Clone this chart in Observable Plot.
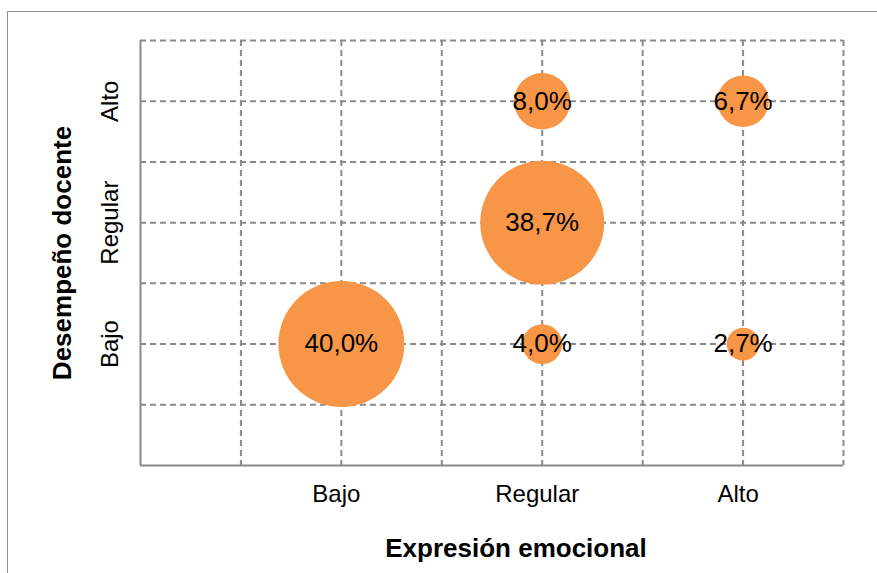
<!DOCTYPE html>
<html>
<head>
<meta charset="utf-8">
<script src="https://cdn.jsdelivr.net/npm/d3@7"></script>
<script src="https://cdn.jsdelivr.net/npm/@observablehq/plot@0.6"></script>
<style>
  html, body { margin: 0; padding: 0; background: #ffffff; }
  #wrap { position: relative; width: 877px; height: 573px; overflow: hidden; }
  #frame { position: absolute; left: 7px; top: 11px; width: 900px; height: 600px;
           border: 1.5px solid #8c8c8c; box-sizing: border-box; }
  #chart { position: absolute; left: 0; top: 0; }
  #chart svg { display: block; background: none; }
</style>
</head>
<body>
<div id="wrap"><div id="frame"></div><div id="chart"></div></div>
<script>
// Levels shared by both axes
const levels = ["Bajo", "Regular", "Alto"];

// One bubble per cell: expresión emocional (x) × desempeño docente (y)
const expresion = ["Bajo", "Regular", "Alto", "Regular", "Regular", "Alto"];
const desempeno = ["Bajo", "Bajo", "Bajo", "Regular", "Alto", "Alto"];
const porcentaje = [40.0, 4.0, 2.7, 38.7, 8.0, 6.7];

// Grid positions between and on the category centres
const gridPositions = [0.5, 1, 1.5, 2, 2.5, 3, 3.5];

const xTitle = "Expresión emocional";
const yTitle = "Desempeño docente";

const cells = porcentaje.map((v, i) => ({
  x: levels.indexOf(expresion[i]) + 1,
  y: levels.indexOf(desempeno[i]) + 1,
  value: v,
  label: v.toFixed(1).replace(".", ",") + "%"
}));
const tickRows = levels.map((name, i) => ({pos: i + 1, name}));

const font = "'Liberation Sans', Arial, Helvetica, sans-serif";
const gridColor = "#8a8a8a";

const chart = Plot.plot({
  width: 877,
  height: 573,
  marginLeft: 140,
  marginRight: 34,
  marginTop: 40,
  marginBottom: 108,
  style: {fontFamily: font, fontSize: "24px", color: "#000", background: "none", overflow: "visible"},
  x: {domain: [0, 3.5], axis: null},
  y: {domain: [0, 3.5], axis: null},
  r: {domain: [0, 40], range: [0, 63]},
  marks: [
    // dashed grid
    Plot.ruleX(gridPositions, {stroke: gridColor, strokeWidth: 2, strokeDasharray: "6,4"}),
    Plot.ruleY(gridPositions, {stroke: gridColor, strokeWidth: 2, strokeDasharray: "6,4"}),
    // solid axis lines
    Plot.ruleX([0], {stroke: gridColor, strokeWidth: 2}),
    Plot.ruleY([0], {stroke: gridColor, strokeWidth: 2}),
    // bubbles
    Plot.dot(cells, {x: "x", y: "y", r: "value", fill: "#F79646", stroke: "none"}),
    Plot.text(cells, {x: "x", y: "y", text: "label", fontSize: 26, fill: "#000", lineAnchor: "middle"}),
    // category labels
    Plot.text(tickRows, {x: "pos", text: "name", frameAnchor: "bottom", dx: -5, dy: 29,
      lineAnchor: "middle", fontSize: 24, fill: "#000"}),
    Plot.text(tickRows, {y: "pos", text: "name", frameAnchor: "left", dx: -30,
      rotate: -90, lineAnchor: "middle", textAnchor: "middle", fontSize: 24, fill: "#000"}),
    // axis titles
    Plot.text([xTitle], {frameAnchor: "bottom", dx: 24, dy: 83, lineAnchor: "middle",
      fontSize: 26, fontWeight: "bold", fill: "#000"}),
    Plot.text([yTitle], {frameAnchor: "left", dx: -78, rotate: -90, lineAnchor: "middle",
      textAnchor: "middle", fontSize: 26, fontWeight: "bold", fill: "#000"})
  ]
});

document.getElementById("chart").appendChild(chart);
</script>
</body>
</html>
